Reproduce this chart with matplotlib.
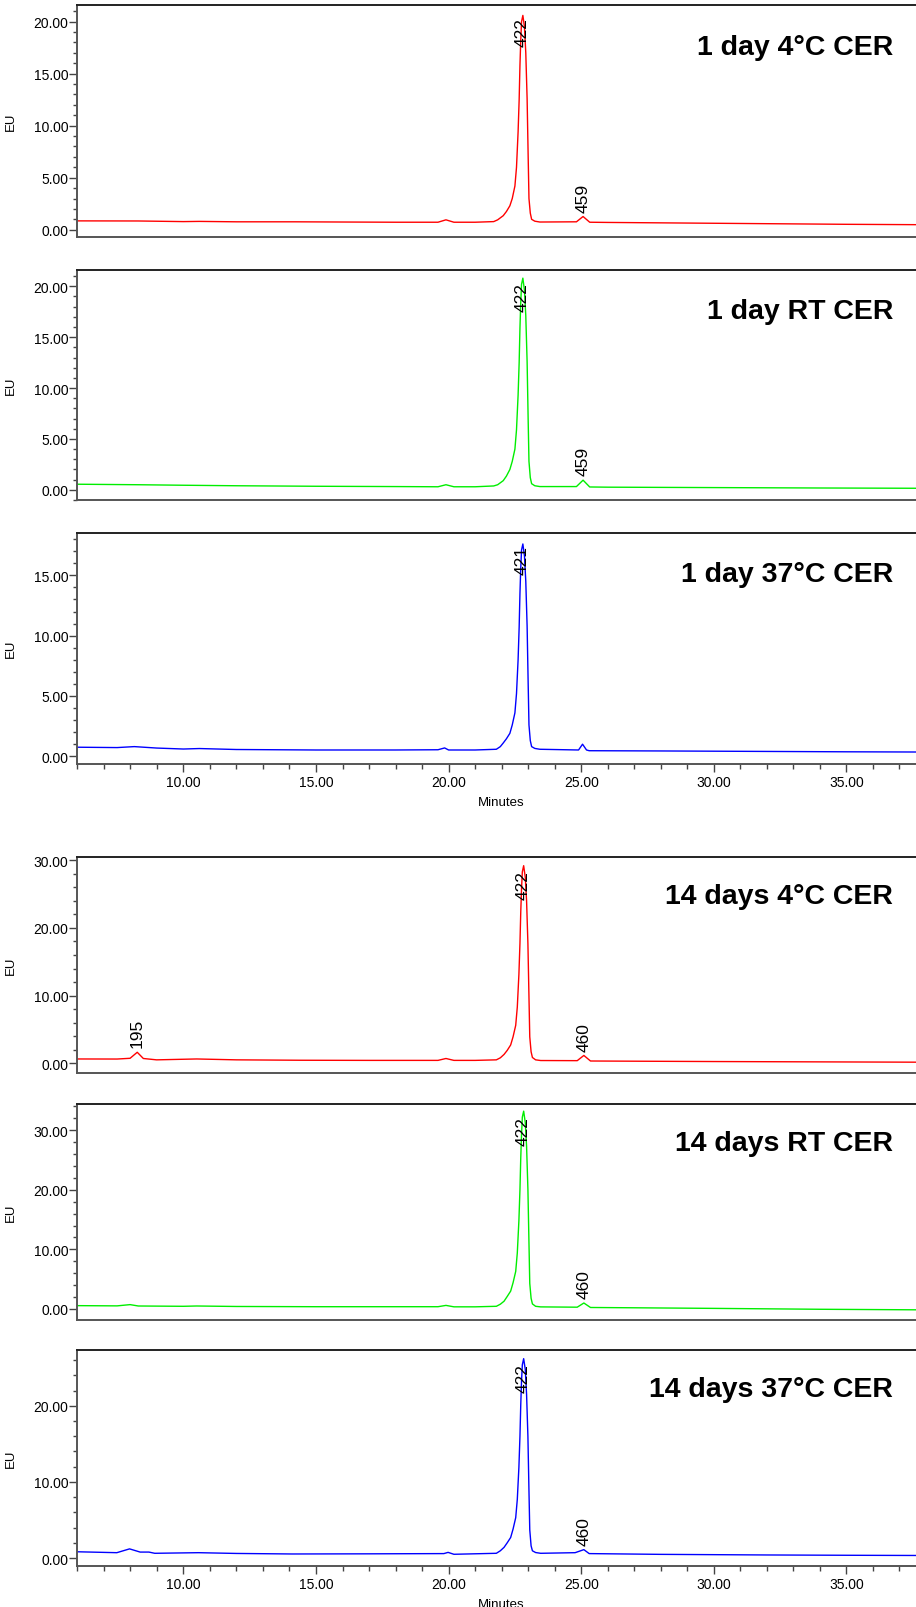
import numpy as np
import matplotlib
matplotlib.use("Agg")
import matplotlib.pyplot as plt
from matplotlib.ticker import MultipleLocator, FormatStrFormatter

plt.rcParams['font.family'] = ['Liberation Sans', 'DejaVu Sans']

# --- data (minutes, EU) ---
titles = ["1 day 4°C CER", "1 day RT CER", "1 day 37°C CER",
          "14 days 4°C CER", "14 days RT CER", "14 days 37°C CER"]
colors = ["#ff0000", "#00ee00", "#0000ff", "#ff0000", "#00ee00", "#0000ff"]

t_1d_4c = [6.0, 8.3, 10.0, 10.6, 12.0, 14.2, 16.0, 18.0, 19.6, 19.9, 20.2, 21.0, 21.7, 21.85,
           22.06, 22.18, 22.31, 22.4, 22.5, 22.56, 22.62, 22.66, 22.69, 22.72, 22.75, 22.8,
           22.86, 22.91, 22.96, 23.0, 23.03, 23.08, 23.13, 23.25, 23.44,
           24.82, 25.07, 25.32, 26.0, 28.0, 30.0, 32.0, 35.0, 38.0]
y_1d_4c = [0.85, 0.84, 0.78, 0.8, 0.76, 0.76, 0.74, 0.72, 0.72, 0.95, 0.72, 0.72, 0.78, 0.95,
           1.35, 1.75, 2.3, 3.0, 4.2, 6.0, 9.4, 12.5, 15.8, 18.2, 20.0, 20.6,
           19.5, 17.0, 12.6, 7.0, 3.0, 1.6, 1.0, 0.82, 0.74,
           0.76, 1.27, 0.72, 0.7, 0.66, 0.62, 0.58, 0.52, 0.48]

t_1d_rt = [6.0, 8.3, 10.0, 12.0, 15.0, 18.0, 19.6, 19.9, 20.2, 21.0, 21.7, 21.85,
           22.06, 22.18, 22.31, 22.4, 22.5, 22.56, 22.62, 22.66, 22.69, 22.72, 22.75, 22.8,
           22.86, 22.91, 22.96, 23.0, 23.03, 23.08, 23.13, 23.25, 23.44,
           24.82, 25.07, 25.32, 26.0, 30.0, 34.0, 38.0]
y_1d_rt = [0.55, 0.5, 0.45, 0.4, 0.35, 0.32, 0.3, 0.5, 0.3, 0.3, 0.38, 0.5,
           0.9, 1.35, 2.0, 2.8, 4.0, 5.9, 9.3, 12.5, 15.9, 18.4, 20.2, 20.8,
           19.6, 17.1, 12.6, 6.8, 2.8, 1.2, 0.6, 0.4, 0.32,
           0.32, 0.95, 0.28, 0.26, 0.22, 0.18, 0.15]

t_1d_37c = [6.0, 7.5, 8.15, 9.0, 10.0, 10.6, 12.0, 15.0, 18.0, 19.6, 19.85, 20.0, 21.0, 21.8, 21.95,
            22.06, 22.18, 22.31, 22.4, 22.5, 22.56, 22.62, 22.66, 22.69, 22.72, 22.75, 22.8,
            22.86, 22.91, 22.96, 23.0, 23.03, 23.08, 23.13, 23.25, 23.44,
            24.9, 25.05, 25.2, 25.3, 28.0, 32.0, 35.0, 38.0]
y_1d_37c = [0.75, 0.72, 0.8, 0.68, 0.6, 0.64, 0.56, 0.52, 0.52, 0.54, 0.69, 0.52, 0.52, 0.58, 0.8,
            1.1, 1.45, 1.9, 2.6, 3.6, 5.2, 8.0, 10.7, 13.5, 15.6, 17.1, 17.6,
            16.6, 14.5, 10.8, 6.0, 2.6, 1.3, 0.8, 0.65, 0.58,
            0.52, 1.0, 0.52, 0.46, 0.44, 0.4, 0.37, 0.35]

t_14d_4c = [6.0, 7.5, 7.99, 8.26, 8.49, 8.99, 10.5, 12.0, 14.4, 17.0, 19.6, 19.9, 20.2, 21.0, 21.8, 21.95,
            22.09, 22.21, 22.34, 22.43, 22.53, 22.59, 22.65, 22.69, 22.72, 22.75, 22.78, 22.83,
            22.89, 22.94, 22.99, 23.03, 23.06, 23.11, 23.16, 23.28, 23.47,
            24.85, 25.1, 25.35, 27.0, 30.0, 34.0, 38.0]
y_14d_4c = [0.63, 0.62, 0.73, 1.62, 0.7, 0.5, 0.63, 0.5, 0.44, 0.42, 0.42, 0.7, 0.42, 0.42, 0.5, 0.8,
            1.3, 1.9, 2.7, 3.9, 5.6, 8.3, 13.1, 17.7, 22.3, 25.8, 28.3, 29.2,
            27.5, 24.0, 17.7, 9.8, 3.9, 1.7, 0.85, 0.5, 0.4,
            0.38, 1.15, 0.33, 0.3, 0.25, 0.2, 0.15]

t_14d_rt = [6.0, 7.5, 7.99, 8.3, 10.0, 10.5, 12.0, 15.0, 18.0, 19.6, 19.9, 20.2, 21.0, 21.8, 21.95,
            22.09, 22.21, 22.34, 22.43, 22.53, 22.59, 22.65, 22.69, 22.72, 22.75, 22.78, 22.83,
            22.89, 22.94, 22.99, 23.03, 23.06, 23.11, 23.16, 23.28, 23.47,
            24.85, 25.1, 25.35, 27.0, 30.0, 34.0, 38.0]
y_14d_rt = [0.56, 0.52, 0.73, 0.5, 0.45, 0.5, 0.42, 0.38, 0.38, 0.38, 0.6, 0.36, 0.36, 0.45, 0.8,
            1.3, 2.1, 3.0, 4.4, 6.3, 9.4, 14.8, 20.0, 25.3, 29.3, 32.2, 33.2,
            31.3, 27.3, 20.1, 11.1, 4.3, 1.8, 0.85, 0.45, 0.35,
            0.3, 1.0, 0.25, 0.2, 0.1, -0.05, -0.15]

t_14d_37c = [6.0, 7.49, 7.97, 8.37, 8.7, 8.92, 10.57, 12.0, 14.1, 17.0, 19.82, 19.98, 20.2, 21.8, 21.95,
             22.09, 22.21, 22.34, 22.43, 22.53, 22.59, 22.65, 22.69, 22.72, 22.75, 22.78, 22.83,
             22.89, 22.94, 22.99, 23.03, 23.06, 23.11, 23.16, 23.28, 23.47,
             24.77, 25.1, 25.3, 28.0, 32.0, 35.0, 38.0]
y_14d_37c = [0.82, 0.7, 1.2, 0.78, 0.78, 0.62, 0.7, 0.6, 0.53, 0.55, 0.58, 0.74, 0.49, 0.62, 0.95,
             1.4, 2.0, 2.7, 3.8, 5.3, 7.7, 11.9, 16.0, 20.1, 23.3, 25.4, 26.2,
             24.8, 21.5, 16.0, 8.8, 3.7, 1.6, 0.95, 0.72, 0.62,
             0.7, 1.1, 0.58, 0.48, 0.4, 0.36, 0.33]

traces_t = [t_1d_4c, t_1d_rt, t_1d_37c, t_14d_4c, t_14d_rt, t_14d_37c]
traces_y = [y_1d_4c, y_1d_rt, y_1d_37c, y_14d_4c, y_14d_rt, y_14d_37c]

# peak labels: (time, apex height, text)
peaks = [
    [(22.77, 20.6, "422"), (25.07, 1.27, "459")],
    [(22.77, 20.8, "422"), (25.07, 0.95, "459")],
    [(22.77, 17.6, "421")],
    [(8.26, 1.62, "195"), (22.81, 29.2, "422"), (25.1, 1.15, "460")],
    [(22.81, 33.2, "422"), (25.1, 1.0, "460")],
    [(22.81, 26.2, "422"), (25.1, 1.1, "460")],
]

# --- layout (pixels in a 916x1608 figure) ---
W, H = 916, 1608
panel_px = [(6, 238), (271, 501), (533.5, 764.5), (858.3, 1073.7), (1105, 1320.7), (1351.3, 1567)]
ylims = [(-0.7, 21.6), (-1.0, 21.6), (-0.6, 18.55), (-1.4, 30.44), (-1.8, 34.4), (-1.05, 27.3)]
ymajor = [5, 5, 5, 10, 10, 10]
yminor = [1, 1, 1, 2, 2, 2]
left_px, right_px = 77.3, 926.0

fig = plt.figure(figsize=(W / 100, H / 100), dpi=100)

for i in range(6):
    top, bot = panel_px[i]
    ax = fig.add_axes([left_px / W, 1 - bot / H, (right_px - left_px) / W, (bot - top) / H])
    ax.plot(traces_t[i], traces_y[i], color=colors[i], lw=1.0)
    ax.set_xlim(6, 38)
    ax.set_ylim(*ylims[i])

    for s in ['left', 'bottom']:
        ax.spines[s].set_color('#555555')
        ax.spines[s].set_linewidth(1.4)
    ax.spines['top'].set_color('#222222')
    ax.spines['top'].set_linewidth(1.4)
    ax.spines['right'].set_visible(False)

    ax.yaxis.set_major_locator(MultipleLocator(ymajor[i]))
    ax.yaxis.set_minor_locator(MultipleLocator(yminor[i]))
    ax.yaxis.set_major_formatter(FormatStrFormatter('%.2f'))
    ax.tick_params(axis='y', which='major', length=5.5, width=1, color='#444444',
                   labelsize=10, pad=1)
    ax.tick_params(axis='y', which='minor', length=3, width=1, color='#444444')
    ax.set_ylabel("EU", fontsize=9.5)
    ax.yaxis.set_label_coords(-0.071, 0.5)

    if i in (2, 5):
        ax.xaxis.set_major_locator(MultipleLocator(5))
        ax.xaxis.set_minor_locator(MultipleLocator(1))
        ax.xaxis.set_major_formatter(FormatStrFormatter('%.2f'))
        ax.tick_params(axis='x', which='major', length=6, width=1, color='#444444',
                       labelsize=10, pad=2)
        ax.tick_params(axis='x', which='minor', length=3.3, width=1, color='#444444')
        ax.set_xlabel("Minutes", fontsize=9.5, labelpad=5)
    else:
        ax.set_xticks([])

    ax.text(0.961, 0.82, titles[i], transform=ax.transAxes, ha='right', va='center',
            fontsize=20.5, fontweight='bold')

    ytop = ylims[i][1]
    for (pt, ph, lab) in peaks[i]:
        if ph > 0.75 * ytop:
            ax.annotate(lab, xy=(pt, 1.0), xycoords=('data', 'axes fraction'),
                        xytext=(0, -9), textcoords='offset points',
                        rotation=90, ha='center', va='top', fontsize=12.5)
        else:
            ax.annotate(lab, xy=(pt, ph), xytext=(0, 3.5), textcoords='offset points',
                        rotation=90, ha='center', va='bottom', fontsize=12.5)

fig.savefig("out.png", dpi=100)
